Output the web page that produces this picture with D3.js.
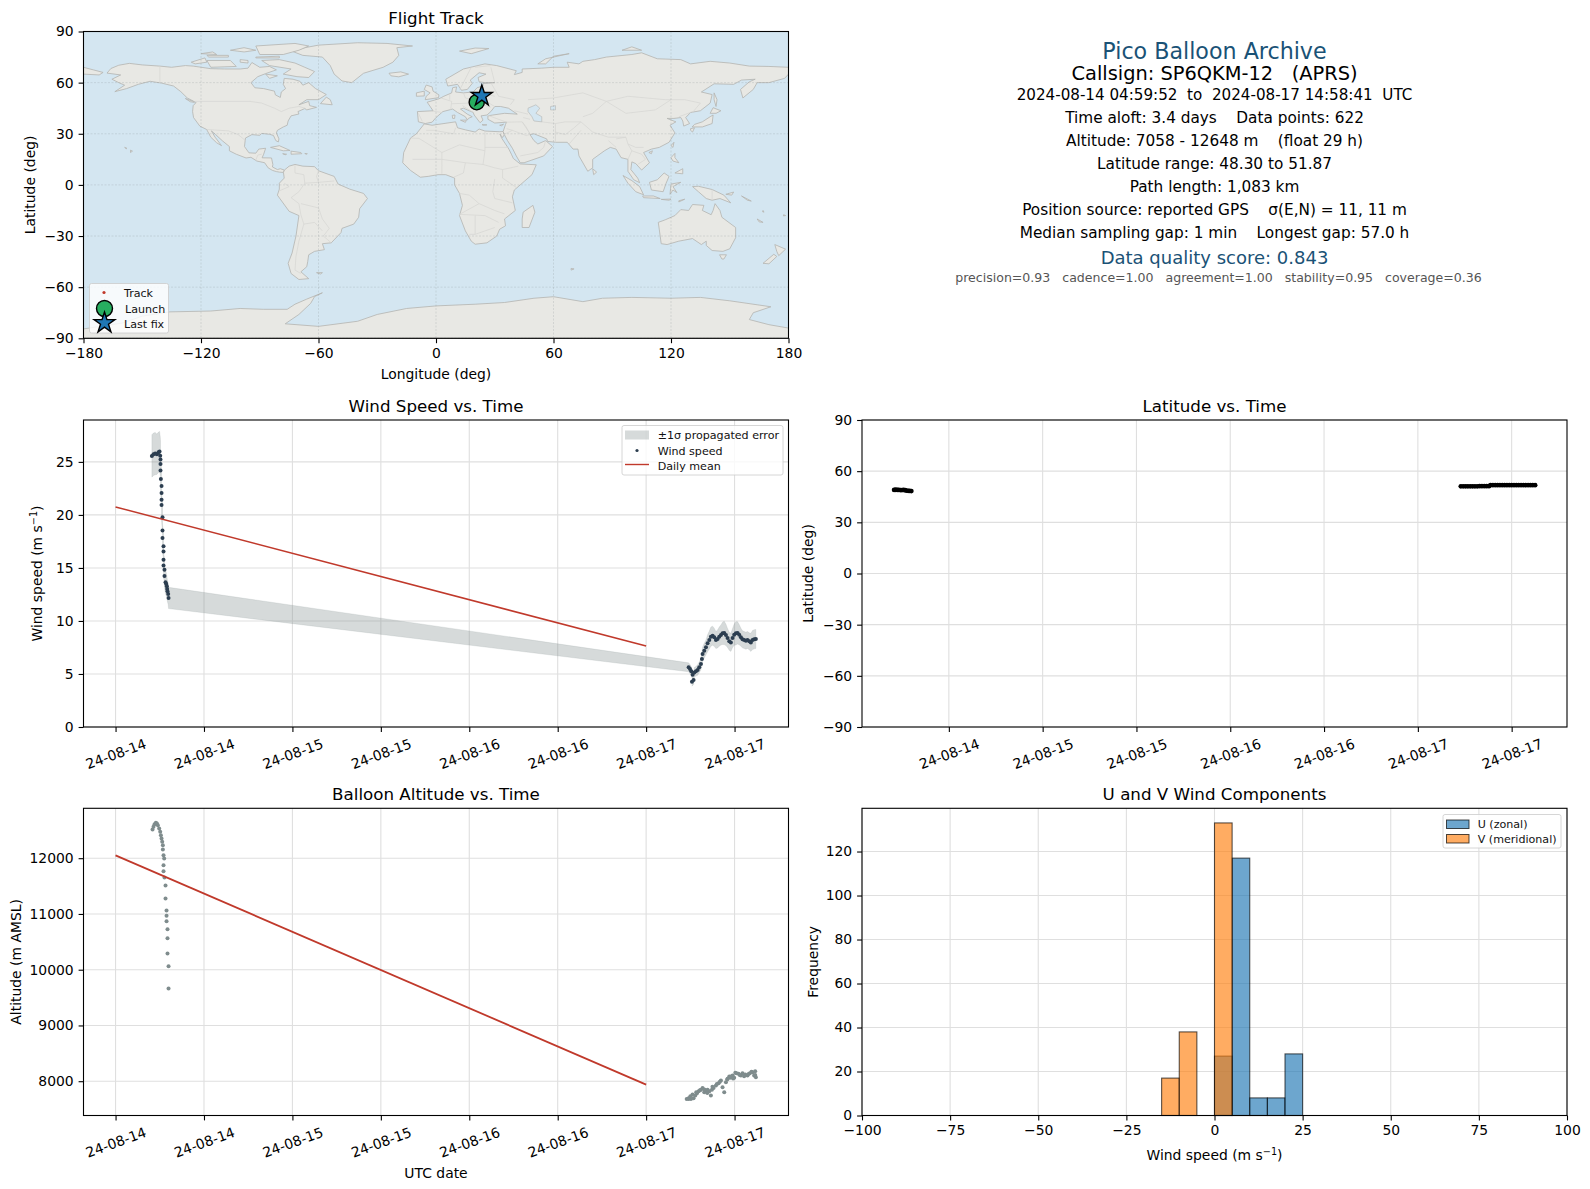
<!DOCTYPE html>
<html>
<head>
<meta charset="utf-8">
<script src="https://cdn.jsdelivr.net/npm/d3@7"></script>
<style>
  html, body { margin: 0; padding: 0; background: #fff; }
  svg { display: block; }
  text { font-family: "DejaVu Sans", sans-serif; fill: #000; white-space: pre; }
  .axis text { font-size: 13.9px; }
  .axis line { stroke: #000; stroke-width: 1.1; }
  .axis path { display: none; }
  .title { font-size: 16.7px; text-anchor: middle; }
  .label { font-size: 13.9px; text-anchor: middle; }
  .legend text { font-size: 11.1px; fill: #111; }
</style>
</head>
<body>
<div id="chart"></div>
<script>
// ---- coastlines, [lon, lat] pairs
const northAmerica = [[-168,65.6],[-166,68.3],[-162,70.2],[-156.6,71.3],[-150,70.4],[-141,69.7],[-135,69],[-128,70],[-124,69.7],[-115,68.2],[-108,68],[-100,68],[-96,68.5],[-94,71.8],[-90,69],[-85,69.5],[-81.5,67.5],[-87,65.3],[-91,63.5],[-94.5,60],[-92.5,57],[-88,56.5],[-82.5,55],[-82,52.8],[-79.5,51.3],[-79,54.5],[-76.8,56.5],[-78,59],[-77.5,62.5],[-73,62],[-69.5,60.8],[-68,58.5],[-65,60],[-61.5,56.5],[-56,53],[-60,50],[-66,50],[-70,47],[-65,49],[-64.5,46.5],[-61,45.5],[-66,44],[-67,44.8],[-70.5,43],[-70,41.6],[-74,40.5],[-75.5,37.5],[-76,35],[-78,34],[-81,32],[-81.5,30.5],[-80.2,27],[-80.5,25.2],[-81.8,26],[-83,29],[-85,29.7],[-89,30.2],[-90,29.1],[-94,29.5],[-97.3,27.5],[-97.8,22.5],[-95.5,18.8],[-92,18.6],[-90.5,21],[-87,21.5],[-88,18],[-88.8,15.9],[-84,15.8],[-83.3,12],[-83.5,10.5],[-81,9],[-79.5,9.5],[-77.4,8.7],[-77.9,7.3],[-80,7.5],[-81.5,7.8],[-83.5,8.5],[-85.7,10],[-87.5,13],[-91.5,14],[-94.5,16.2],[-97,15.8],[-102,18],[-105.5,20],[-105.5,22.5],[-109,25.8],[-112.5,29.5],[-114.7,31.7],[-112.8,28],[-109.5,23],[-112,24.7],[-115,28],[-117.1,32.5],[-120.6,34.5],[-123.8,39.5],[-124.3,43],[-124,46.5],[-122.5,48.3],[-127,51],[-130.3,54.7],[-134,58],[-140,59.7],[-146,60.8],[-152,59],[-158,56.5],[-164,54.7],[-159,58.5],[-162,60],[-165.5,62],[-161,64.5]];
const greenland = [[-73,78.2],[-67,80.5],[-60,82],[-40,83.4],[-25,83],[-12,81.5],[-20,80.5],[-19,76],[-22,72],[-27,69],[-37,65.5],[-43,60],[-48,61],[-52,65],[-54,70],[-58,75],[-68,76]];
const arcticIslands = [
  [[-80,73.5],[-72,71.5],[-67,69],[-62,66.5],[-65,63],[-71,63.5],[-78,65],[-74,68],[-85,70],[-89,73]],
  [[-117,73],[-105,73],[-102,69.5],[-115,69]],
  [[-90,76.5],[-78,76.5],[-70,79],[-65,81.5],[-72,83],[-92,81.5]],
  [[-125,72],[-118,74.5],[-117,72],[-123,71]],
  [[-92,75],[-80,75.5],[-80,74.5],[-92,74.5]],
  [[-117,76],[-106,76],[-106,75],[-116,75]],
  [[-87,65],[-81,64],[-85,62.5]],
  [[-100,73.5],[-96,73],[-96,71.5],[-100,72]],
  [[-120,77],[-114,78],[-112,76.5]],
  [[-105,79],[-98,80.5],[-92,79],[-98,78]]
];
const caribbean = [
  [[-59,47.7],[-53,47],[-54,50],[-56,51.5]],
  [[-84.5,22],[-80,23],[-74.5,20.2],[-78,20]],
  [[-74,19.8],[-69,19],[-68.5,18.3],[-74,18]],
  [[-78.3,18.3],[-76.3,18],[-77,17.7]],
  [[-67,18.4],[-65.7,18.3],[-66,18]],
  [[-128,50.7],[-124,49],[-123.4,48.4],[-125.5,48.8]],
  [[-156,19],[-155,19.8],[-156,20.4]],
  [[-159,22],[-157.8,21.5],[-158.2,21.2]],
  [[-61,-51.5],[-58,-51.5],[-59,-52.3]]
];
const southAmerica = [[-77.4,8.7],[-75,11],[-72,12],[-68,11],[-62,10.7],[-60,8.3],[-52,5],[-50,0.5],[-44,-2.5],[-37,-5],[-35,-8],[-39,-14],[-39.5,-19],[-42,-23],[-48,-25.5],[-48.5,-28],[-53.5,-34],[-58,-34.5],[-57,-38],[-62,-39],[-65,-41],[-65.5,-45],[-66,-48],[-69,-51],[-65,-55],[-70,-55.5],[-74,-52],[-75.5,-46],[-73.5,-40],[-71.5,-30],[-70,-18],[-75,-15.5],[-81,-6],[-80,-2.5],[-80,1],[-77.5,4],[-77.9,7.3]];
const africa = [[-6,35.8],[-2,35],[10,37],[11,33.5],[15,32.3],[20,31],[22,32.8],[25,31.6],[32.3,31.2],[34.3,31.3],[34.9,29.5],[34,27.8],[32.6,29.9],[33.5,27.5],[35.5,24],[37.2,21],[38.5,18],[39.5,15.5],[43,12.3],[51.2,11.8],[49,6],[45,2],[40,-3],[39,-7],[40.5,-15],[35,-20],[35.5,-24],[32.5,-26],[31,-30],[26,-34],[20,-34.8],[18,-33],[15,-27],[12,-18],[13.5,-12],[12,-5],[9.5,0],[9.5,4],[5,6],[1,6],[-4,5],[-8,4.5],[-13,8.5],[-17,13],[-16.5,19],[-13,27.5],[-10,30]];
const eurasia = [[-9,37],[-9.5,43],[-1.5,43.5],[-4.5,48.5],[1.5,50.5],[4,52],[8,54],[8.5,57],[10.5,57.5],[10,54.5],[14,54],[19,54.5],[21,57],[24,58],[24,59.5],[30,60],[25,60],[22,60.5],[21.5,63],[25.5,65],[22,65.8],[17.5,61.5],[18.5,59.5],[16,56],[13,55.5],[11,59],[6,58],[5,62],[14,68],[25,71],[31,70],[41,67],[40,64.7],[44,66],[44,68],[54,68.5],[60,69],[68,69],[67,72],[73,71],[75,72.5],[81,73.5],[87,75],[100,76.5],[105,77.5],[113,74],[125,73.5],[130,71],[140,72.5],[150,71.5],[160,69.7],[170,69.5],[180,69],[180,65],[178,62.5],[170,60],[164,60],[162,56],[156.7,51],[155.5,56],[160,60.5],[163,62],[156,61.5],[152,59],[142,59.3],[135.5,54.5],[141,53],[140,48],[135,43.5],[130,42.5],[127.5,39.5],[129.5,36],[126.5,34.5],[126,37.5],[125,39.5],[121.5,39],[118,39],[122.5,37],[119.5,35],[122,30.5],[119,25],[114,22],[110,21],[106,19],[109,13],[105,8.7],[102,12.5],[100,13.5],[99.5,9],[103,4],[104,1.3],[101,3],[98,8],[98,15],[94.5,16],[92,21],[89,22],[86,20],[80,15],[80,10],[77.5,8],[73,17],[72.5,21],[70,21],[67,25],[61,25],[57,25.5],[56.5,27],[50,30],[48,29.5],[50,26],[52,24],[56,26],[59.5,22.5],[55,17],[45,13],[43,13],[41,17],[39,21.5],[36.5,26],[34.9,29.5],[34.3,31.3],[35.5,35.5],[36,36.8],[30,36.3],[26.5,38.5],[26.5,40.5],[29,41],[35,42],[41.5,41.5],[37,45],[33,46],[30,46],[28,43],[26,41],[23,40.5],[24,38],[22.5,36.5],[19.5,41],[19,42.5],[14,45],[12.5,44.5],[16,41.5],[18.5,40],[16.5,39],[16,38],[15,40],[11,42.5],[8.5,44.5],[3.5,43],[0,39.5],[-2,36.8],[-5.5,36]];
const chukotkaWrap = [[-180,65],[-172,64.5],[-170,66],[-175,67.5],[-180,69]];
const oldWorldIslands = [
  [[49.5,-12],[50.5,-16],[47.5,-25],[44,-25],[44,-20],[44.5,-16]],
  [[-5.5,50],[1.3,51.2],[1.5,52.8],[-1.5,55],[-2,57.5],[-5,58.6],[-6,56],[-3,54],[-5,52]],
  [[-10,52],[-6,52.2],[-6,55],[-10,54]],
  [[-24,65.5],[-18,66.3],[-14,65],[-19,63.4],[-23,64]],
  [[12,78.5],[20,80.3],[27,80],[18,77]],
  [[52,71],[56,74],[68,77],[60,75.5],[56,71]],
  [[95,79],[100,81],[105,79]],
  [[142,54],[143.5,50],[143,46],[142,50]],
  [[130.8,34],[136,34],[141,36],[141.5,41],[140,40],[136,37],[132,35.5]],
  [[140,42],[141.5,45.3],[145.5,43.5],[143,42]],
  [[130,33],[132,33.5],[131,31],[130,32]],
  [[120,23],[121.5,25],[121,22]],
  [[108.7,19],[110.5,20],[110,18.3]],
  [[120,16],[122,18.5],[122,16],[124,13],[121,14]],
  [[122,7],[126,9.5],[126,6.5]],
  [[80,9.5],[82,7.5],[80.5,6]],
  [[8.3,40.8],[9.7,41],[9.5,39],[8.5,39]],
  [[12.5,38],[15.5,38],[15,36.7]],
  [[23.5,35.4],[26,35.2],[24,35]],
  [[32.5,35],[34.5,35.6],[33.5,34.7]],
  [[69,-49],[70.5,-49.3],[69,-50]]
];
const pacificIslands = [
  [[95.5,5.5],[100,2.5],[104,-1],[106,-5.8],[102,-4],[98,1]],
  [[105.5,-6.5],[111,-6.5],[114.5,-8],[106,-7.5]],
  [[109,1.5],[113,3],[116.5,7],[119,5],[117.5,1],[116,-4],[110,-3]],
  [[119.5,-5.5],[120,0.5],[125,1.5],[121,-1],[123,-4.5],[121,-3]],
  [[131,-1],[134,-0.8],[141,-2.7],[147,-6],[150.5,-10.5],[145,-8],[141,-9],[138,-8],[134,-4]],
  [[148,-5.5],[152,-4.2],[151,-6]],
  [[124,-10],[127,-8.4],[124,-9.3]],
  [[115,-8.5],[120,-8.3],[119,-9]],
  [[156,-6.5],[161,-9.5],[159,-9]],
  [[164,-20],[167,-22],[165,-21.7]],
  [[177.5,-17.5],[178.5,-18],[177.4,-18.2]],
  [[167,-15],[167.5,-16],[166.7,-15.7]],
  [[144.8,-41],[148.3,-41],[147,-43.5],[146,-43.5]],
  [[173,-35],[178.5,-37.7],[175,-41.5],[174,-39]],
  [[172.5,-40.7],[174,-42],[170,-46.3],[167,-46]]
];
const australia = [[113.5,-22],[114,-26],[115,-34.5],[118,-35],[124,-33],[131,-31.5],[135.5,-35],[138,-33],[138,-35.5],[141,-38.5],[146.5,-39],[150,-37.5],[153,-31],[153,-25],[146,-19],[145,-15],[142.5,-11],[141.5,-15],[140.5,-17.5],[136,-15],[136.8,-12],[131,-11.5],[129,-15],[125,-14.5],[122,-18],[117,-20.5]];
const antarctica = [[-180,-90],[-180,-84.5],[-160,-81],[-150,-77],[-136,-74.5],[-115,-74],[-100,-72.5],[-88,-73],[-76,-73],[-72,-70],[-66,-67],[-58,-63.3],[-62,-65.5],[-64,-69.5],[-70,-76],[-77,-81.5],[-60,-83],[-40,-80],[-30,-76],[-15,-72.5],[0,-71],[20,-70],[35,-69],[50,-66.5],[60,-65.6],[75,-68.5],[85,-66.5],[100,-66],[120,-66.5],[135,-66],[150,-68],[165,-70.5],[171,-71.5],[162,-75],[160,-79],[170,-82],[180,-84],[180,-90]];
const lakes = [
  [[47,45],[51,47],[53,45],[51,42],[54,40],[54,37],[50,37.5],[49,40],[47,43]],
  [[58.5,46],[61,46.5],[61,44],[58.5,44]]
];
const borders = [
  [[-141,69.7],[-141,60]],[[-123,49],[-95,49],[-89,48],[-82.5,45],[-79,43],[-75,45],[-70,46],[-67,45]],
  [[-117,32.5],[-106,31.7],[-101,29.5],[-97.3,26]],[[-92,14.5],[-91,17.5],[-89,18]],
  [[-72,11.5],[-72,7],[-67.5,6],[-67,1],[-70,-4]],[[-70,-4],[-74,-7.5],[-70,-11],[-69,-17.5]],[[-60,8.3],[-61,5],[-60,1.5],[-52,2.3]],[[-67,1],[-60,1.5]],
  [[-69,-17.5],[-67.5,-23],[-70,-33],[-71.5,-42],[-72,-50],[-69,-52]],[[-69,-11],[-60,-13.5],[-58,-20],[-54.5,-25.5],[-57.5,-30],[-53.5,-34]],[[-67.5,-23],[-62,-22],[-58,-27]],[[-80,-3.5],[-75,-1],[-77.5,1]],
  [[-8.7,27.3],[-13,27.5]],[[-8.7,27.3],[3,19],[12,23.5],[25,20],[25,31.6]],[[25,22],[36.9,22]],[[25,20],[24,12],[15,13],[14,7],[9,4.5]],[[3,19],[3,11.5],[3,6.5]],[[-12,15],[-5,15],[3,15],[15,13]],
  [[-5,32],[-1,32],[9,30],[10,33.5]],[[24,12],[30,10],[34,9],[42,11]],[[34,9],[34,4],[41,-1.5]],[[30,3.5],[29,-4],[30,-8],[39,-10.5]],[[12,-5],[17,-6],[22,-11],[12,-17.3]],[[22,-11],[30,-15],[35,-17]],[[12,-17.3],[25,-18],[32,-22]],[[20,-18],[20,-29],[17,-29]],[[20,-29],[30,-25]],
  [[-1.8,43.3],[3,42.5]],[[-9,42],[-7,37.3]],[[2.5,51],[8,49],[7.5,44]],[[7,53.5],[7,50]],[[14,54],[15,51],[22,49]],[[8,47.6],[17,48],[22,48],[28,45.5]],[[13.5,46.5],[19,42.5]],[[23,54],[24,50],[30,46]],[[28,60],[32,52],[40,50],[38,47]],[[30,52],[23,54]],[[12,55.5],[18,69]],[[20,69],[28,70]],[[30,60],[28,69]],
  [[40,43.5],[47,41.5]],[[26,41],[36,36.8]],[[36,36.8],[44,37],[48,30]],[[36,33],[39,32],[46,29],[48,29.5]],[[44.5,39.5],[48,38.5]],[[44,37],[46,34],[48,30]],[[54,37],[61,36],[61,31],[61,25]],[[61,31],[66,29.5],[70,33],[74,37]],[[66,37],[61,36]],[[66,37],[74,37]],[[43,17],[52,19],[55,22],[56,26]],[[39,32],[34.5,29.5]],
  [[47,50],[60,51],[75,54],[87,49]],[[87,49],[97,42],[112,44],[120,50]],[[87,49],[98,52],[117,50],[127,50],[135,48],[131,42.5]],[[75,40],[80,42],[87,49]],[[74,37],[80,31],[88,28],[97,28],[98,24],[102,22],[106,22]],[[68,24],[74,32]],[[88,26],[92,22]],[[92,27],[97,28]],[[98,24],[100,20],[98,15]],[[100,20],[105,18],[107,15],[103,12]],[[124,40],[130,42.5]],[[141,-2.7],[141,-9]]
];

// ---- shared time base: everything below is hours after 2024-08-14 00:00 UTC
const timeStart = Date.UTC(2024, 7, 14);
const tickHoursA = [0, 12, 24, 36, 48, 60, 72, 84];
const tickHoursB = [12, 24, 36, 48, 60, 72, 84];
const meanHours = [0, 72];

// Wind speed panel
const windHours = [4.93,5.15,5.38,5.61,5.83,5.97,6.06,6.10,6.10,6.10,6.15,6.24,6.24,6.24,6.24,6.37,6.37,6.37,6.51,6.51,6.51,6.51,6.64,6.64,6.78,6.87,6.96,7.0,7.05,7.14,7.19,
  77.77,77.95,78.13,78.31,78.22,78.44,78.53,78.76,78.99,79.21,79.44,79.57,79.66,79.89,80.12,80.34,80.57,80.79,81.02,81.24,81.47,81.70,81.92,82.15,82.37,82.60,82.83,83.05,83.28,83.50,83.73,83.95,84.18,84.41,84.63,84.86,85.08,85.31,85.54,85.76,85.99,86.21,86.44,86.66,86.89];
const windSpeed = [25.56,25.72,25.78,25.72,25.91,25.97,25.59,25.22,24.81,24.18,23.39,22.73,22.07,21.44,20.94,19.78,18.52,17.83,17.04,16.54,15.78,15.22,14.84,14.24,13.64,13.49,13.27,13.02,12.79,12.55,12.17,
  5.63,5.47,5.25,4.93,4.27,4.43,5.15,5.25,5.37,5.63,5.94,6.41,6.88,7.2,7.51,7.89,8.2,8.52,8.61,8.46,8.2,8.3,8.52,8.68,8.83,8.87,8.68,8.39,8.08,7.98,8.39,8.71,8.83,8.87,8.71,8.46,8.27,8.2,8.14,8.2,8.08,7.98,8.2,8.27,8.3];
const windSigma = [2.0,2.0,2.0,1.9,1.9,1.9,1.8,1.8,1.7,1.7,1.7,1.6,1.6,1.5,1.5,1.4,1.4,1.3,1.3,1.2,1.2,1.2,1.1,1.1,1.1,1.1,1.0,1.0,1.0,1.0,1.0,
  0.42,0.42,0.42,0.42,0.42,0.42,0.45,0.45,0.5,0.5,0.55,0.6,0.65,0.7,0.7,0.8,0.85,0.9,0.9,0.85,0.8,0.85,0.9,0.95,1.05,1.1,1.0,0.9,0.85,0.85,0.9,1.0,1.1,1.05,0.95,0.85,0.8,0.8,0.8,0.8,0.8,0.85,0.9,0.9,0.9];
const windMean = [20.75, 7.63];
const windTicks = [0, 5, 10, 15, 20, 25];

// Latitude panel
const latHours = [5.0,5.2,5.4,5.6,5.8,6.0,6.2,6.4,6.6,6.8,7.0,7.2,
  77.5,77.8,78.1,78.4,78.7,79.0,79.3,79.6,79.9,80.2,80.5,80.8,81.1,81.3,81.6,81.9,82.2,82.5,82.8,83.1,83.4,83.7,84.0,84.3,84.6,84.9,85.2,85.5,85.8,86.1,86.4,86.7,87.0];
const latValues = [49.0,49.1,49.0,49.0,48.9,48.9,49.0,48.8,48.6,48.5,48.4,48.3,
  51.1,51.1,51.1,51.1,51.1,51.1,51.1,51.1,51.2,51.2,51.2,51.2,51.2,51.8,51.8,51.8,51.8,51.8,51.8,51.8,51.8,51.8,51.8,51.8,51.8,51.8,51.8,51.8,51.8,51.8,51.8,51.8,51.8];
const latTicks = [-90, -60, -30, 0, 30, 60, 90];

// Altitude panel
const altHours = [5.02,5.15,5.29,5.47,5.61,5.74,5.92,6.06,6.15,6.24,6.33,6.42,6.42,6.51,6.6,6.51,6.51,6.64,6.78,6.78,6.92,6.92,6.92,7.05,7.05,7.05,7.19,7.19,
  77.5,77.77,77.77,78.08,78.44,78.67,78.9,79.12,79.44,79.66,79.89,80.12,80.34,80.57,80.79,80.93,81.15,81.47,81.83,82.15,82.37,82.6,82.83,83.05,83.28,83.5,83.73,83.95,84.27,84.54,84.86,85.08,85.45,85.76,86.08,86.44,86.66,86.8,86.89,
  78.0,78.3,78.8,79.3,79.9,80.3,81.0,81.6,82.0,83.0,83.4,83.8,84.1,84.7,85.3,85.9,86.3,86.8];
const altValues = [12515,12563,12610,12634,12622,12592,12533,12473,12413,12353,12293,12234,12156,12054,11995,11875,11767,11654,11510,11277,11062,10966,10870,10727,10565,10290,10063,9662,
  7683,7695,7683,7683,7695,7743,7785,7821,7845,7880,7803,7821,7845,7821,7743,7845,7880,7922,7964,8012,7892,7803,7982,8042,8084,8084,8102,8060,8144,8132,8102,8144,8120,8102,8144,8161,8102,8179,8072,
  7730,7760,7800,7840,7850,7790,7900,7950,7990,8030,8060,8050,8150,8110,8090,8130,8170,8110];
const altMean = [12050, 7940];
const altTicks = [8000, 9000, 10000, 11000, 12000];

// Histogram panel
const binEdges = [-15, -10, -5, 0, 5, 10, 15, 20, 25];
const uCounts = [0, 0, 0, 27, 117, 8, 8, 28];
const vCounts = [17, 38, 0, 133, 0, 0, 0, 0];
const histXTicks = [-100, -75, -50, -25, 0, 25, 50, 75, 100];
const histYTicks = [0, 20, 40, 60, 80, 100, 120];

// Map panel
const trackLon = [20.8, 20.9, 21.0, 22.6, 23.0, 23.4];
const trackLat = [48.5, 48.7, 49.0, 51.1, 51.8, 52.2];
const mapXTicks = [-180, -120, -60, 0, 60, 120, 180];
const mapYTicks = [-90, -60, -30, 0, 30, 60, 90];

const infoLines = [
  ["Pico Balloon Archive", 22.2, "#1a5276", 59, 1214.5],
  ["Callsign: SP6QKM-12   (APRS)", 19.4, "#000", 80, 1214.5],
  ["2024-08-14 04:59:52  to  2024-08-17 14:58:41  UTC", 15.15, "#000", 99.5, 1214.5],
  ["Time aloft: 3.4 days    Data points: 622", 15.3, "#000", 123, 1214.5],
  ["Altitude: 7058 - 12648 m    (float 29 h)", 15.3, "#000", 146, 1214.5],
  ["Latitude range: 48.30 to 51.87", 15.3, "#000", 169, 1214.5],
  ["Path length: 1,083 km", 15.3, "#000", 192, 1214.5],
  ["Position source: reported GPS    σ(E,N) = 11, 11 m", 15.3, "#000", 215, 1214.5],
  ["Median sampling gap: 1 min    Longest gap: 57.0 h", 15.3, "#000", 238, 1214.5],
  ["Data quality score: 0.843", 18, "#1a5276", 263.5, 1214.5],
  ["precision=0.93   cadence=1.00   agreement=1.00   stability=0.95   coverage=0.36", 12.55, "#555", 282, 1218.5]
];

const colors = { land: "#e8e8e4", coast: "#b4b4b0", border: "#d6d6d2", sea: "#d4e6f1", grid: "#dfdfdf",
  band: "#7f8c8d", wind: "#2c3e50", mean: "#c0392b", alt: "#7f8c8d", launch: "#27ae60", star: "#1f77b4", u: "#1f77b4", v: "#ff7f0e" };

const svg = d3.select("#chart").append("svg").attr("width", 1590).attr("height", 1189);
svg.append("rect").attr("width", 1590).attr("height", 1189).attr("fill", "#fff");

const panels = {
  map: { x0: 83.5, x1: 788.5, y0: 31.5, y1: 338.3 },
  wind: { x0: 83.5, x1: 788.5, y0: 420, y1: 727 },
  lat: { x0: 862, x1: 1567, y0: 420, y1: 727 },
  alt: { x0: 83.5, x1: 788.5, y0: 808.3, y1: 1115.5 },
  hist: { x0: 862, x1: 1567, y0: 808.3, y1: 1115.5 }
};

function hourDate(h) { return new Date(timeStart + h * 3600e3); }

// frame, grid, ticks and title for one panel
function setupPanel(p, x, y, xTicks, yTicks, title, xFormat, yFormat, rotated) {
  const g = svg.append("g");
  g.append("g").selectAll("line").data(xTicks).join("line")
    .attr("x1", d => x(d)).attr("x2", d => x(d)).attr("y1", p.y0).attr("y2", p.y1)
    .attr("stroke", colors.grid).attr("stroke-width", 1.1);
  g.append("g").selectAll("line").data(yTicks).join("line")
    .attr("x1", p.x0).attr("x2", p.x1).attr("y1", d => y(d)).attr("y2", d => y(d))
    .attr("stroke", colors.grid).attr("stroke-width", 1.1);

  const ax = svg.append("g").attr("class", "axis").attr("transform", `translate(0,${p.y1})`)
    .call(d3.axisBottom(x).tickValues(xTicks).tickFormat(xFormat).tickSize(4.9).tickPadding(4.9).tickSizeOuter(0));
  if (rotated) {
    ax.selectAll("text").attr("y", null).attr("dy", "0.35em").attr("transform", "translate(0,27) rotate(-20)");
  }
  svg.append("g").attr("class", "axis").attr("transform", `translate(${p.x0},0)`)
    .call(d3.axisLeft(y).tickValues(yTicks).tickFormat(yFormat).tickSize(4.9).tickPadding(4.9).tickSizeOuter(0));
  svg.append("text").attr("class", "title").attr("x", (p.x0 + p.x1) / 2).attr("y", p.y0 - 8).text(title);
  return g;
}

function frame(p) {
  svg.append("rect").attr("x", p.x0).attr("y", p.y0).attr("width", p.x1 - p.x0).attr("height", p.y1 - p.y0)
    .attr("fill", "none").attr("stroke", "#000").attr("stroke-width", 1.1);
}

function yLabel(p, offset, parts) {
  const t = svg.append("text").attr("class", "label")
    .attr("transform", `translate(${p.x0 - offset},${(p.y0 + p.y1) / 2}) rotate(-90)`);
  parts(t);
}

function windUnits(t, before) {
  t.append("tspan").text(before + " (m s");
  t.append("tspan").attr("dy", -5).attr("font-size", 9.7).text("−1");
  t.append("tspan").attr("dy", 5).text(")");
}

const minus = d => String(d).replace("-", "−");

// ---- Flight Track
{
  const p = panels.map;
  const x = d3.scaleLinear().domain([-180, 180]).range([p.x0, p.x1]);
  const y = d3.scaleLinear().domain([-90, 90]).range([p.y1, p.y0]);
  const line = d3.line().x(d => x(d[0])).y(d => y(d[1]));
  const closed = d3.line().x(d => x(d[0])).y(d => y(d[1])).curve(d3.curveLinearClosed);

  svg.append("rect").attr("x", p.x0).attr("y", p.y0).attr("width", p.x1 - p.x0).attr("height", p.y1 - p.y0).attr("fill", colors.sea);

  const land = [northAmerica, greenland, ...arcticIslands, ...caribbean, southAmerica, africa, eurasia, chukotkaWrap,
    ...oldWorldIslands, ...pacificIslands, australia, antarctica];
  svg.append("g").selectAll("path").data(land).join("path")
    .attr("d", d => closed(d)).attr("fill", colors.land).attr("stroke", colors.coast).attr("stroke-width", 0.8).attr("stroke-linejoin", "round");
  svg.append("g").selectAll("path").data(borders).join("path")
    .attr("d", d => line(d)).attr("fill", "none").attr("stroke", colors.border).attr("stroke-width", 0.7);
  svg.append("g").selectAll("path").data(lakes).join("path")
    .attr("d", d => closed(d)).attr("fill", colors.sea).attr("stroke", colors.coast).attr("stroke-width", 0.6);

  // dashed lat/lon graticule sits over the land
  svg.append("g").selectAll("line").data(mapXTicks).join("line")
    .attr("x1", d => x(d)).attr("x2", d => x(d)).attr("y1", p.y0).attr("y2", p.y1)
    .attr("stroke", "#8a9499").attr("stroke-opacity", 0.35).attr("stroke-width", 0.7).attr("stroke-dasharray", "2,1.5");
  svg.append("g").selectAll("line").data(mapYTicks).join("line")
    .attr("x1", p.x0).attr("x2", p.x1).attr("y1", d => y(d)).attr("y2", d => y(d))
    .attr("stroke", "#8a9499").attr("stroke-opacity", 0.35).attr("stroke-width", 0.7).attr("stroke-dasharray", "2,1.5");

  svg.append("g").selectAll("circle").data(trackLon).join("circle")
    .attr("cx", d => x(d)).attr("cy", (d, i) => y(trackLat[i])).attr("r", 1.5).attr("fill", colors.mean);

  const star = d3.symbol().type(d3.symbolStar).size(135);
  svg.append("circle").attr("cx", x(trackLon[0])).attr("cy", y(trackLat[0])).attr("r", 7.6)
    .attr("fill", colors.launch).attr("stroke", "#000").attr("stroke-width", 1.4);
  svg.append("path").attr("d", star()).attr("transform", `translate(${x(trackLon[5])},${y(trackLat[5])})`)
    .attr("fill", colors.star).attr("stroke", "#000").attr("stroke-width", 1.4);

  svg.append("g").attr("class", "axis").attr("transform", `translate(0,${p.y1})`)
    .call(d3.axisBottom(x).tickValues(mapXTicks).tickFormat(minus).tickSize(4.9).tickPadding(4.9).tickSizeOuter(0));
  svg.append("g").attr("class", "axis").attr("transform", `translate(${p.x0},0)`)
    .call(d3.axisLeft(y).tickValues(mapYTicks).tickFormat(minus).tickSize(4.9).tickPadding(4.9).tickSizeOuter(0));
  svg.append("text").attr("class", "title").attr("x", (p.x0 + p.x1) / 2).attr("y", p.y0 - 8).text("Flight Track");
  svg.append("text").attr("class", "label").attr("x", (p.x0 + p.x1) / 2).attr("y", 379).text("Longitude (deg)");
  yLabel(p, 49, t => t.text("Latitude (deg)"));

  // legend
  const lg = svg.append("g").attr("class", "legend");
  lg.append("rect").attr("x", 89.5).attr("y", 283.5).attr("width", 79).attr("height", 49.5).attr("rx", 2)
    .attr("fill", "#fff").attr("fill-opacity", 0.8).attr("stroke", "#ccc").attr("stroke-width", 0.8);
  lg.append("circle").attr("cx", 104).attr("cy", 292.5).attr("r", 1.6).attr("fill", colors.mean);
  lg.append("text").attr("x", 124).attr("y", 296.5).text("Track");
  lg.append("circle").attr("cx", 104.5).attr("cy", 308.5).attr("r", 8).attr("fill", colors.launch).attr("stroke", "#000").attr("stroke-width", 1.4);
  lg.append("text").attr("x", 125).attr("y", 312.5).text("Launch");
  lg.append("path").attr("d", star()).attr("transform", "translate(104.5,323)").attr("fill", colors.star).attr("stroke", "#000").attr("stroke-width", 1.4);
  lg.append("text").attr("x", 124).attr("y", 327.5).text("Last fix");
  frame(p);
}

// ---- info block
svg.append("g").selectAll("text").data(infoLines).join("text")
  .attr("x", d => d[4]).attr("y", d => d[3]).attr("text-anchor", "middle")
  .attr("font-size", d => d[1]).style("fill", d => d[2]).text(d => d[0]);

const fmtDate = d3.utcFormat("%y-%m-%d");

// ---- Wind Speed vs. Time
{
  const p = panels.wind;
  const x = d3.scaleUtc().domain([hourDate(-4.35), hourDate(91.32)]).range([p.x0, p.x1]);
  const y = d3.scaleLinear().domain([0, 28.95]).range([p.y1, p.y0]);
  setupPanel(p, x, y, tickHoursA.map(hourDate), windTicks, "Wind Speed vs. Time", fmtDate, d3.format("d"), true);

  const area = d3.area().x((d, i) => x(hourDate(windHours[i])))
    .y0((d, i) => y(d - windSigma[i])).y1((d, i) => y(d + windSigma[i]));
  svg.append("path").attr("d", area(windSpeed)).attr("fill", colors.band).attr("fill-opacity", 0.32)
    .attr("stroke", colors.band).attr("stroke-opacity", 0.15).attr("stroke-width", 1);
  svg.append("g").selectAll("circle").data(windSpeed).join("circle")
    .attr("cx", (d, i) => x(hourDate(windHours[i]))).attr("cy", d => y(d)).attr("r", 2).attr("fill", colors.wind);
  svg.append("path").attr("fill", "none").attr("stroke", colors.mean).attr("stroke-width", 1.5)
    .attr("d", d3.line().x((d, i) => x(hourDate(meanHours[i]))).y(d => y(d))(windMean));
  yLabel(p, 42, t => windUnits(t, "Wind speed"));

  const lg = svg.append("g").attr("class", "legend");
  lg.append("rect").attr("x", 622).attr("y", 425.5).attr("width", 161).attr("height", 49.5).attr("rx", 2)
    .attr("fill", "#fff").attr("fill-opacity", 0.8).attr("stroke", "#ccc").attr("stroke-width", 0.8);
  lg.append("rect").attr("x", 625).attr("y", 430.5).attr("width", 24).attr("height", 9).attr("fill", colors.band).attr("fill-opacity", 0.32);
  lg.append("text").attr("x", 657.7).attr("y", 439).text("±1σ propagated error");
  lg.append("circle").attr("cx", 637).attr("cy", 450.5).attr("r", 1.6).attr("fill", colors.wind);
  lg.append("text").attr("x", 657.7).attr("y", 454.5).text("Wind speed");
  lg.append("line").attr("x1", 625).attr("x2", 649).attr("y1", 464.5).attr("y2", 464.5).attr("stroke", colors.mean).attr("stroke-width", 1.4);
  lg.append("text").attr("x", 657.7).attr("y", 470).text("Daily mean");
  frame(p);
}

// ---- Latitude vs. Time
{
  const p = panels.lat;
  const x = d3.scaleUtc().domain([hourDate(0.89), hourDate(91.08)]).range([p.x0, p.x1]);
  const y = d3.scaleLinear().domain([-90, 90]).range([p.y1, p.y0]);
  setupPanel(p, x, y, tickHoursB.map(hourDate), latTicks, "Latitude vs. Time", fmtDate, minus, true);
  svg.append("g").selectAll("circle").data(latValues).join("circle")
    .attr("cx", (d, i) => x(hourDate(latHours[i]))).attr("cy", d => y(d)).attr("r", 2.4).attr("fill", "#000");
  yLabel(p, 49, t => t.text("Latitude (deg)"));
  frame(p);
}

// ---- Balloon Altitude vs. Time
{
  const p = panels.alt;
  const x = d3.scaleUtc().domain([hourDate(-4.35), hourDate(91.32)]).range([p.x0, p.x1]);
  const y = d3.scaleLinear().domain([7385, 12895]).range([p.y1, p.y0]);
  setupPanel(p, x, y, tickHoursA.map(hourDate), altTicks, "Balloon Altitude vs. Time", fmtDate, d3.format("d"), true);
  svg.append("g").selectAll("circle").data(altValues).join("circle")
    .attr("cx", (d, i) => x(hourDate(altHours[i]))).attr("cy", d => y(d)).attr("r", 2).attr("fill", colors.alt);
  svg.append("path").attr("fill", "none").attr("stroke", colors.mean).attr("stroke-width", 1.8)
    .attr("d", d3.line().x((d, i) => x(hourDate(meanHours[i]))).y(d => y(d))(altMean));
  svg.append("text").attr("class", "label").attr("x", (p.x0 + p.x1) / 2).attr("y", 1178).text("UTC date");
  yLabel(p, 63, t => t.text("Altitude (m AMSL)"));
  frame(p);
}

// ---- U and V Wind Components
{
  const p = panels.hist;
  const x = d3.scaleLinear().domain([-100, 100]).range([p.x0, p.x1]);
  const y = d3.scaleLinear().domain([0, 139.65]).range([p.y1, p.y0]);
  setupPanel(p, x, y, histXTicks, histYTicks, "U and V Wind Components", minus, d3.format("d"), false);

  const bars = (counts, color) => svg.append("g").selectAll("rect")
    .data(counts.map((c, i) => ({ c, i })).filter(d => d.c > 0)).join("rect")
    .attr("x", d => x(binEdges[d.i])).attr("width", d => x(binEdges[d.i + 1]) - x(binEdges[d.i]))
    .attr("y", d => y(d.c)).attr("height", d => y(0) - y(d.c))
    .attr("fill", color).attr("fill-opacity", 0.65).attr("stroke", "#000").attr("stroke-opacity", 0.65).attr("stroke-width", 1.1);
  bars(uCounts, colors.u);
  bars(vCounts, colors.v);

  svg.append("text").attr("class", "label").attr("x", (p.x0 + p.x1) / 2).attr("y", 1160).call(t => windUnits(t, "Wind speed"));
  yLabel(p, 44, t => t.text("Frequency"));

  const lg = svg.append("g").attr("class", "legend");
  lg.append("rect").attr("x", 1443).attr("y", 814.5).attr("width", 118).attr("height", 33.5).attr("rx", 2)
    .attr("fill", "#fff").attr("fill-opacity", 0.8).attr("stroke", "#ccc").attr("stroke-width", 0.8);
  lg.append("rect").attr("x", 1446.5).attr("y", 820).attr("width", 22.5).attr("height", 8.5).attr("fill", colors.u).attr("fill-opacity", 0.65).attr("stroke", "#000").attr("stroke-opacity", 0.7);
  lg.append("text").attr("x", 1477.7).attr("y", 828).text("U (zonal)");
  lg.append("rect").attr("x", 1446.5).attr("y", 834.5).attr("width", 22.5).attr("height", 8.5).attr("fill", colors.v).attr("fill-opacity", 0.65).attr("stroke", "#000").attr("stroke-opacity", 0.7);
  lg.append("text").attr("x", 1477.7).attr("y", 843).text("V (meridional)");
  frame(p);
}
</script>
</body>
</html>
